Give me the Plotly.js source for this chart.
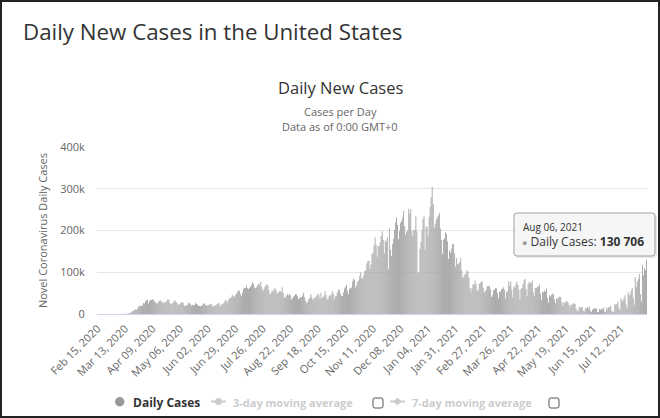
<!DOCTYPE html>
<html><head><meta charset="utf-8">
<script src="https://cdn.plot.ly/plotly-3.0.1.min.js"></script>
<style>
html,body{margin:0;padding:0;background:#fff;}
#chart{position:absolute;left:0;top:0;width:660px;height:418px;}
#frame{position:absolute;left:0;top:0;width:660px;height:418px;box-sizing:border-box;border:2px solid #222;pointer-events:none;}
</style></head>
<body><div id="chart"></div><div id="frame"></div>
<script>
// Daily new cases, United States, Feb 15 2020 (Sat) .. Aug 06 2021 (Fri), one row per week
const startDate = [2020, 1, 15];
const dailyCases = [
0,0,0,0,0,2,0,
0,0,0,0,1,1,2,
8,6,23,19,33,77,53,
166,116,75,188,365,439,633,
759,234,1467,1833,2657,4494,6367,
7123,9903,10571,9893,12038,18058,17821,
19821,19408,20922,26341,25200,30390,32284,
34196,25316,30613,33331,33323,35527,33752,
30000,27620,25306,26641,30206,31678,32165,
29057,25844,29157,25985,28486,31421,36188,
33955,26543,22412,24385,27326,30000,33000,
29000,25500,22300,23000,24600,27900,28800,
25600,20300,18600,21700,21500,27800,25400,
24500,19900,22200,20400,21900,26900,24200,
22500,19600,19000,17700,19600,21700,24700,
25700,20800,20700,19600,21300,22600,24600,
22800,17900,18500,19700,21400,23100,25700,
25500,19200,20200,24000,23800,27700,32100,
32500,25900,32100,35800,38500,39700,45900,
43300,40400,44800,47900,52500,56700,55200,
47100,42600,51100,60600,62400,62700,68200,
61500,59600,62000,65700,68800,76900,71600,
63700,61800,63800,69200,72700,70100,77000,
65100,55500,59500,64100,68300,70500,68500,
57600,47500,50400,55600,53800,59500,61900,
56100,47900,51500,54000,55000,52300,64000,
50300,38900,39500,45000,47400,44600,48000,
44800,34700,38600,41700,44100,47200,47100,
43300,35200,38500,40800,40300,44500,51000,
40200,31100,25600,28800,35600,37900,48200,
40800,34400,35900,40200,40400,44600,48800,
45200,35600,51000,38300,40400,44000,55000,
45000,35000,37200,42600,44700,45700,54500,
48800,34900,42600,44000,51400,58000,58100,
49200,44000,43400,52000,60800,64600,70100,
54700,47200,60400,61900,63400,77600,84200,
82300,62700,69000,77000,80500,91200,99200,
84200,86300,92900,103100,104000,121300,127100,
127600,108000,118300,143000,146000,163000,184000,
166000,137000,163000,162000,172000,187000,198000,
178000,145000,176000,173000,183000,108000,206000,
154000,139000,167000,180000,201000,220000,232000,
213000,179000,199000,218000,223000,231000,247000,
211000,189000,197000,200000,252000,241000,251000,
199000,187000,201000,201000,234000,198000,99000,
100000,156000,173000,200000,227000,235000,154000,
210000,208000,186000,233000,256000,280000,304000,
263000,207000,216000,227000,232000,236000,242000,
205000,177000,144000,178000,181000,196000,191000,
174000,132000,152000,147000,156000,168000,167000,
145000,113000,134000,119000,121000,124000,134000,
105000,86000,89000,95000,95000,105000,102000,
86000,62000,54000,62000,72000,70000,80000,
71000,56000,56000,72000,74000,78000,78000,
62000,51000,55000,59000,67000,66000,68000,
59000,41000,45000,57000,58000,62000,61000,
50000,38000,54000,54000,59000,61000,64000,
58000,38000,52000,55000,78000,67000,78000,
58000,40000,66000,62000,70000,77000,70000,
58000,34000,59000,62000,71000,81000,84000,
59000,44000,71000,77000,74000,74000,80000,
52000,42000,63000,62000,65000,66000,71000,
49000,33000,53000,52000,56000,53000,61000,
38000,27000,45000,42000,46000,49000,47000,
35000,26000,38000,36000,40000,42000,41000,
28000,19000,28000,26000,30000,31000,29000,
22000,15000,22000,22000,25000,26000,24000,
12000,8000,7000,17000,15000,16000,17000,
8000,6000,14000,13000,17000,14000,18000,
8000,5000,11000,12000,14000,13000,13000,
4000,4000,12000,10000,13000,12000,15000,
6000,4000,16000,11000,16000,17000,20000,
7000,5000,6000,24000,22000,24000,30000,
14000,9000,38000,30000,33000,38000,45000,
22000,14000,52000,44000,48000,56000,62000,
38000,22000,88000,64000,78000,84000,96000,
48000,30000,118000,92000,110000,105000,130706
];
const xTickLabels = ["Feb 15, 2020","Mar 13, 2020","Apr 09, 2020","May 06, 2020","Jun 02, 2020","Jun 29, 2020","Jul 26, 2020","Aug 22, 2020","Sep 18, 2020","Oct 15, 2020","Nov 11, 2020","Dec 08, 2020","Jan 04, 2021","Jan 31, 2021","Feb 27, 2021","Mar 26, 2021","Apr 22, 2021","May 19, 2021","Jun 15, 2021","Jul 12, 2021"];
const yTickVals = [0,100000,200000,300000,400000];
const yTickText = ["0","100k","200k","300k","400k"];
const tooltipDate = "Aug 06, 2021";
const tooltipValue = "130 706";

const MONTHS = ["Jan","Feb","Mar","Apr","May","Jun","Jul","Aug","Sep","Oct","Nov","Dec"];
const t0 = Date.UTC(startDate[0], startDate[1], startDate[2]);
const dates = dailyCases.map((_, i) => {
  const d = new Date(t0 + i * 86400000);
  return MONTHS[d.getUTCMonth()] + " " + String(d.getUTCDate()).padStart(2, "0") + ", " + d.getUTCFullYear();
});

// pixel -> paper helpers (plot area: x 97..647, y 147..314)
const L = 97, R = 647, T = 147, B = 314;
const X = px => (px - L) / (R - L);
const Y = py => (B - py) / (B - T);
const FONT = "Open Sans, sans-serif";

const trace = {
  type: "bar", x: dates, y: dailyCases, name: "Daily Cases",
  marker: {color: "#a4a4a4", line: {width: 0}},
  hoverinfo: "none", showlegend: false
};

function rr(x0, y0, x1, y1, r) {
  return `M${X(x0 + r)},${Y(y0)} L${X(x1 - r)},${Y(y0)} Q${X(x1)},${Y(y0)} ${X(x1)},${Y(y0 + r)} L${X(x1)},${Y(y1 - r)} Q${X(x1)},${Y(y1)} ${X(x1 - r)},${Y(y1)} L${X(x0 + r)},${Y(y1)} Q${X(x0)},${Y(y1)} ${X(x0)},${Y(y1 - r)} L${X(x0)},${Y(y0 + r)} Q${X(x0)},${Y(y0)} ${X(x0 + r)},${Y(y0)} Z`;
}

const shapes = [
  {type: "path", xref: "paper", yref: "paper", path: rr(515, 214, 657, 258, 3), fillcolor: "rgba(0,0,0,0.08)", line: {width: 0}},
  {type: "path", xref: "paper", yref: "paper", path: rr(514, 213, 655, 256, 3), fillcolor: "rgba(247,247,247,0.95)", line: {color: "#a0a0a0", width: 1}},
  {type: "circle", xref: "paper", yref: "paper", x0: X(115), x1: X(124.5), y0: Y(397), y1: Y(406.5), fillcolor: "#999", line: {width: 0}},
  {type: "line", xref: "paper", yref: "paper", x0: X(211), x1: X(226), y0: Y(401.5), y1: Y(401.5), line: {color: "#ccc", width: 2}},
  {type: "circle", xref: "paper", yref: "paper", x0: X(215), x1: X(222), y0: Y(398), y1: Y(405), fillcolor: "#ccc", line: {width: 0}},
  {type: "path", xref: "paper", yref: "paper", path: rr(373, 398, 383, 408, 2), fillcolor: "#fff", line: {color: "#555", width: 1}},
  {type: "line", xref: "paper", yref: "paper", x0: X(390), x1: X(405), y0: Y(401.5), y1: Y(401.5), line: {color: "#ccc", width: 2}},
  {type: "path", xref: "paper", yref: "paper", path: `M${X(397.5)},${Y(397.5)} L${X(401.5)},${Y(401.5)} L${X(397.5)},${Y(405.5)} L${X(393.5)},${Y(401.5)} Z`, fillcolor: "#ccc", line: {width: 0}},
  {type: "path", xref: "paper", yref: "paper", path: rr(549, 398, 559, 408, 2), fillcolor: "#fff", line: {color: "#555", width: 1}}
];

const ann = (text, px, py, size, color, xanchor, extra) => Object.assign({
  text, xref: "paper", yref: "paper", x: X(px), y: Y(py), xanchor: xanchor || "center", yanchor: "middle",
  showarrow: false, font: {family: FONT, size, color}, align: "left"
}, extra || {});

const annotations = [
  ann("Daily New Cases", 340, 87, 16.5, "#333"),
  ann("Cases per Day", 340, 111, 11, "#666"),
  ann("Data as of 0:00 GMT+0", 340, 126, 11, "#666"),
  ann(tooltipDate, 521, 227, 10, "#333", "left"),
  ann("<span style='color:#999;font-size:9px'>●</span> Daily Cases: <b>" + tooltipValue + "</b>", 520, 241, 12, "#333", "left"),
  ann("<b>Daily Cases</b>", 131, 402, 12, "#333", "left"),
  ann("<b>3-day moving average</b>", 231, 402, 11, "#ccc", "left"),
  ann("<b>7-day moving average</b>", 410, 402, 11, "#ccc", "left")
];

const layout = {
  width: 660, height: 418,
  margin: {l: L, r: 660 - R, t: T, b: 418 - B, pad: 0},
  paper_bgcolor: "#fff", plot_bgcolor: "#fff",
  font: {family: FONT, color: "#666"},
  title: {text: "Daily New Cases in the United States", x: 23 / 660, xanchor: "left", xref: "container",
          y: 1 - 32 / 418, yanchor: "middle", yref: "container", font: {family: FONT, size: 22.3, color: "#333"}},
  bargap: 0.12,
  showlegend: false,
  xaxis: {
    type: "category", categoryorder: "array", categoryarray: dates,
    range: [-0.5, dates.length - 0.5], fixedrange: true,
    tickmode: "array", tickvals: xTickLabels, ticktext: xTickLabels, tickangle: -45,
    tickfont: {family: FONT, size: 11, color: "#666"},
    showgrid: false, zeroline: false, showline: true, linecolor: "#ccd6eb", linewidth: 1,
    ticks: "outside", ticklen: 3, tickcolor: "rgba(0,0,0,0)", automargin: false
  },
  yaxis: {
    range: [0, 400000], fixedrange: true,
    tickmode: "array", tickvals: yTickVals, ticktext: yTickText,
    tickfont: {family: FONT, size: 11, color: "#666"},
    showgrid: true, gridcolor: "#e6e6e6", gridwidth: 1, zeroline: false, showline: false,
    ticks: "outside", ticklen: 9, tickcolor: "rgba(0,0,0,0)", automargin: false,
    title: {text: "Novel Coronavirus Daily Cases", font: {family: FONT, size: 11, color: "#666"}, standoff: 10}
  },
  shapes, annotations
};

Plotly.newPlot("chart", [trace], layout, {displayModeBar: false, staticPlot: true});
</script>
</body></html>
